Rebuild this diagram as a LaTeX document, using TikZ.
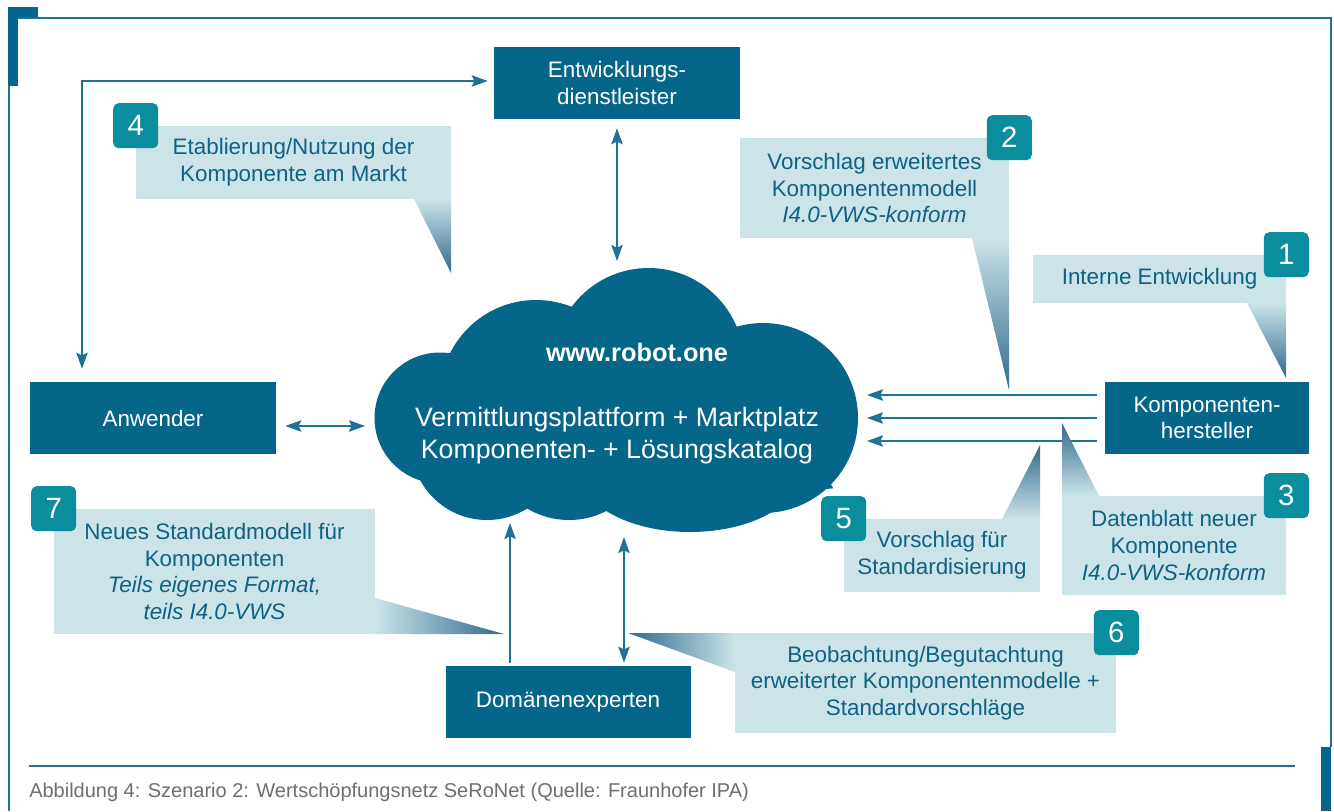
\documentclass[tikz,border=0pt]{standalone}
\usepackage{fontspec}
\setmainfont{Liberation Sans}
\usepackage{tikz}
\usetikzlibrary{arrows.meta}

\definecolor{dunkel}{HTML}{06668A}
\definecolor{badge}{HTML}{0A8E9E}
\definecolor{hell}{HTML}{CCE4E8}
\definecolor{schrift}{HTML}{0E6283}
\definecolor{linie}{HTML}{1E7296}
\definecolor{spitze}{HTML}{2F6A8E}
\definecolor{grau}{HTML}{6D6E71}

\begin{document}
\begin{tikzpicture}[x=0.75pt, y=-0.75pt,
  akteur/.style={fill=dunkel, text=white, align=center, inner sep=0pt,
    minimum height=54pt, font=\fontsize{16.8}{20}\selectfont},
  notiz/.style={fill=hell, text=schrift, align=center, inner sep=0pt,
    font=\fontsize{16.8}{20}\selectfont},
  nummer/.style={fill=badge, text=white, rounded corners=4pt, inner sep=0pt,
    minimum size=33.75pt, font=\fontsize{22}{22}\selectfont},
  pfeil/.style={draw=linie, line width=1.5pt,
    -{Stealth[length=12pt,width=8.5pt,inset=2pt]}},
  dpfeil/.style={pfeil,
    {Stealth[length=12pt,width=8.5pt,inset=2pt]}-{Stealth[length=12pt,width=8.5pt,inset=2pt]}},
  rahmen/.style={draw=linie, line width=1.5pt}]

\useasboundingbox (0,0) rectangle (1334,811);

%frame
\fill[dunkel] (8,7) rectangle (18,86);
\fill[dunkel] (8,7) rectangle (38,18);
\draw[rahmen] (18,17.5) -- (1330.5,17.5) -- (1330.5,747);
\draw[rahmen] (9,86) -- (9,811);
\fill[dunkel] (1321,747) rectangle (1331,811);
\draw[rahmen] (29,766) -- (1295,766);  %caption line

%cloud
\fill[dunkel] (648.5,363.5) circle[radius=95.5];
\fill[dunkel] (536,396) circle[radius=96];
\fill[dunkel] (440,418) circle[radius=65.5];
\fill[dunkel] (763,418) circle[radius=95];
\fill[dunkel] (690,472) ellipse[x radius=110, y radius=60];
\fill[dunkel] (569,438) circle[radius=82];
\fill[dunkel] (487,444) circle[radius=76];
\fill[dunkel] (571.7,306.7) -- (736.7,326.7) -- (833.3,488.3) -- (608.3,510)
  -- (530,506.7) -- (428.3,481.7) -- (450,353.3) -- cycle;

\node[text=white, align=center, font=\fontsize{20}{24}\selectfont] (cloud) at (617,404)
  {\hspace*{30pt}{\bfseries\fontsize{19}{24}\selectfont www.robot.one}\\[24.75pt]
   Vermittlungsplattform + Marktplatz\\
   Komponenten- + Lösungskatalog};

\coordinate (cN)  at (617,261);
\coordinate (cW)  at (365,426);
\coordinate (cE1) at (867,395);
\coordinate (cE2) at (867,418);
\coordinate (cE3) at (867,441);
\coordinate (cS1) at (510,523);
\coordinate (cS2) at (624,537);
\coordinate (knick) at (82,81);

%actors
\node[akteur, minimum width=184.5pt] (entw) at (617,83)  {Entwicklungs-\\dienstleister};
\node[akteur, minimum width=184.5pt] (anw)  at (153,418) {Anwender};
\node[akteur, minimum width=153pt]   (komp) at (1207,418) {Komponenten-\\hersteller};
\node[akteur, minimum width=183.75pt] (dom) at (568,702) {Domänenexperten};

%arrows
\draw[dpfeil, shorten <=9.75pt, shorten >=4.5pt] (anw.north -| knick) -- (knick) -- (entw.west |- knick);
\draw[dpfeil, shorten <=6.75pt] (entw.south) -- (cN);
\draw[dpfeil, shorten <=6.75pt] (anw.east |- cW) -- (cW);
\draw[pfeil, shorten <=6pt] (komp.west |- cE1) -- (cE1);
\draw[pfeil, shorten <=6pt] (komp.west |- cE2) -- (cE2);
\draw[pfeil, shorten <=6pt] (komp.west |- cE3) -- (cE3);
\draw[pfeil, shorten <=2.25pt] (dom.north -| cS1) -- (cS1);
\draw[dpfeil, shorten <=2.25pt] (dom.north -| cS2) -- (cS2);

%wedges
\shade[top color=hell, bottom color=spitze] (414,199) -- (451,199) -- (451,273) -- cycle;    %4
\shade[top color=hell, bottom color=spitze] (972,238) -- (1009,238) -- (1009,390) -- cycle;  %2
\shade[top color=hell, bottom color=spitze] (1247,303) -- (1286,303) -- (1286,378) -- cycle; %1
\shade[top color=spitze, bottom color=hell] (1062,496) -- (1099,496) -- (1062,423) -- cycle; %3
\shade[top color=spitze, bottom color=hell] (1002,519) -- (1040,519) -- (1040,445) -- cycle; %5
\shade[left color=spitze, right color=hell] (735,633) -- (735,672) -- (628,633) -- cycle;    %6
\shade[left color=hell, right color=spitze] (375,598) -- (375,634) -- (504,634) -- cycle;    %7

%notes
\node[notiz, minimum width=236.25pt, minimum height=54.75pt] (n4) at (293.5,162.5)
  {Etablierung/Nutzung der\\Komponente am Markt};
\node[notiz, minimum width=201.75pt, minimum height=75pt] (n2) at (874.5,188)
  {Vorschlag erweitertes\\Komponentenmodell\\\textit{I4.0-VWS-konform}};
\node[notiz, minimum width=189.75pt, minimum height=36pt] (n1) at (1159.5,279)
  {Interne Entwicklung};
\node[notiz, minimum width=168pt, minimum height=74.25pt] (n3) at (1174,545.5)
  {Datenblatt neuer\\Komponente\\\textit{I4.0-VWS-konform}};
\node[notiz, minimum width=147pt, minimum height=54.75pt] (n5) at (942,555.5)
  {Vorschlag für\\Standardisierung};
\node[notiz, minimum width=285.75pt, minimum height=75pt] (n6) at (925.5,683)
  {Beobachtung/Begutachtung\\erweiterter Komponentenmodelle +\\Standardvorschläge};
\node[notiz, minimum width=240.75pt, minimum height=93.75pt] (n7) at (214.5,571.5)
  {Neues Standardmodell für\\Komponenten\\\textit{Teils eigenes Format,}\\\textit{teils I4.0-VWS}};

%numbers
\node[nummer] (b1) at (n1.north east) {1};
\node[nummer] (b2) at (n2.north east) {2};
\node[nummer] (b3) at (n3.north east) {3};
\node[nummer] (b4) at (n4.north west) {4};
\node[nummer] (b5) at (n5.north west) {5};
\node[nummer] (b6) at (n6.north east) {6};
\node[nummer] (b7) at (n7.north west) {7};

%caption
\node[anchor=base west, text=grau, inner sep=0pt, font=\fontsize{15}{18}\selectfont] (quelle) at (29,797)
  {Abbildung 4: Szenario 2: Wertschöpfungsnetz SeRoNet (Quelle: Fraunhofer IPA)};

\end{tikzpicture}
\end{document}
